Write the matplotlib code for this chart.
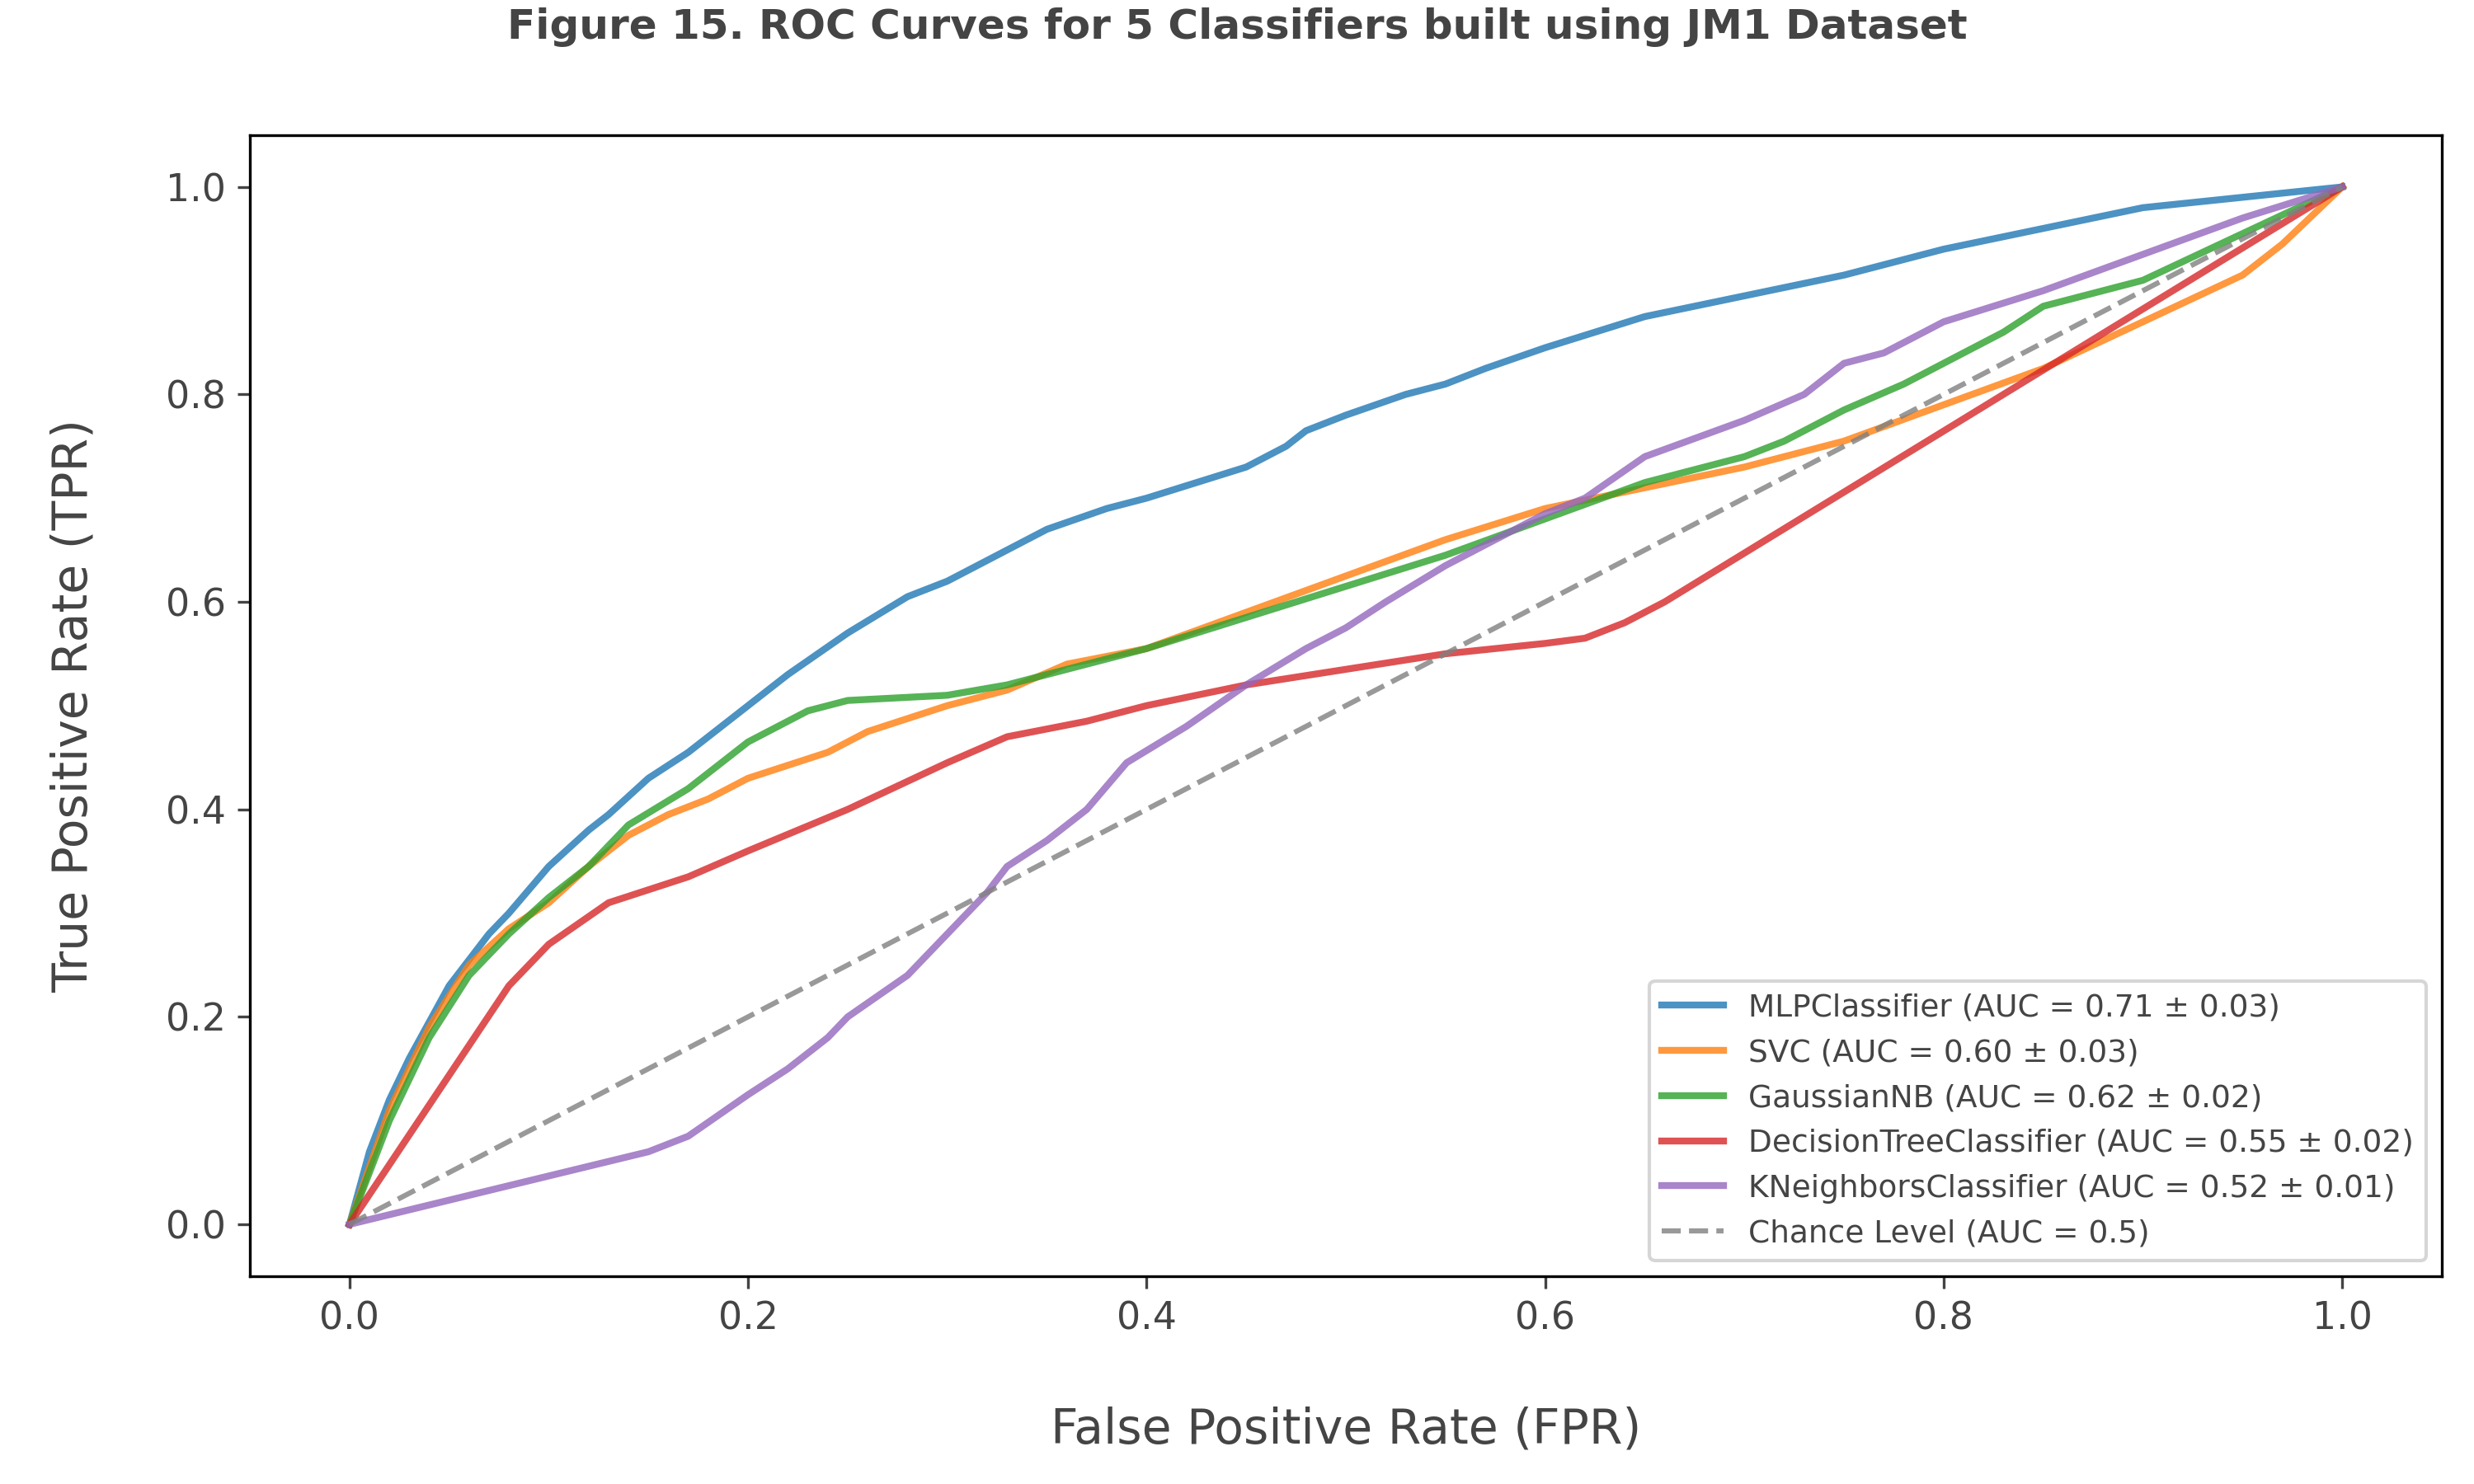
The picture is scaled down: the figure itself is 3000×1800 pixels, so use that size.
import matplotlib
matplotlib.use("Agg")
import matplotlib.pyplot as plt

mlp_x = [0,0.01,0.02,0.03,0.05,0.07,0.08,0.1,0.12,0.13,0.15,0.17,0.2,0.22,0.25,0.28,0.3,0.32,0.35,0.38,0.4,0.45,0.47,0.48,0.5,0.53,0.55,0.57,0.6,0.65,0.7,0.75,0.8,0.85,0.9,0.95,1]
mlp_y = [0,0.07,0.12,0.16,0.23,0.28,0.30,0.345,0.38,0.395,0.43,0.455,0.50,0.53,0.57,0.605,0.62,0.64,0.67,0.69,0.70,0.73,0.75,0.765,0.78,0.80,0.81,0.825,0.845,0.875,0.895,0.915,0.94,0.96,0.98,0.99,1]
svc_x = [0,0.02,0.04,0.06,0.08,0.1,0.12,0.14,0.16,0.18,0.2,0.24,0.26,0.3,0.33,0.36,0.4,0.45,0.5,0.55,0.6,0.65,0.7,0.75,0.8,0.85,0.9,0.95,0.97,1]
svc_y = [0,0.11,0.19,0.25,0.285,0.31,0.345,0.375,0.395,0.41,0.43,0.455,0.475,0.50,0.515,0.54,0.555,0.59,0.625,0.66,0.69,0.71,0.73,0.755,0.79,0.825,0.87,0.915,0.945,1]
gnb_x = [0,0.02,0.04,0.06,0.08,0.1,0.12,0.14,0.17,0.2,0.23,0.25,0.3,0.33,0.37,0.4,0.45,0.5,0.55,0.6,0.65,0.7,0.72,0.75,0.78,0.8,0.83,0.85,0.9,0.95,1]
gnb_y = [0,0.10,0.18,0.24,0.28,0.315,0.345,0.385,0.42,0.465,0.495,0.505,0.51,0.52,0.54,0.555,0.585,0.615,0.645,0.68,0.715,0.74,0.755,0.785,0.81,0.83,0.86,0.885,0.91,0.955,1]
dt_x = [0,0.08,0.1,0.13,0.17,0.2,0.25,0.3,0.33,0.37,0.4,0.45,0.5,0.55,0.6,0.62,0.64,0.66,1]
dt_y = [0,0.23,0.27,0.31,0.335,0.36,0.40,0.445,0.47,0.485,0.50,0.52,0.535,0.55,0.56,0.565,0.58,0.60,1]
knn_x = [0,0.15,0.17,0.2,0.22,0.24,0.25,0.28,0.3,0.32,0.33,0.35,0.37,0.39,0.42,0.45,0.48,0.5,0.52,0.55,0.58,0.6,0.62,0.65,0.7,0.73,0.75,0.77,0.8,0.85,0.9,0.95,1]
knn_y = [0,0.07,0.085,0.125,0.15,0.18,0.20,0.24,0.28,0.32,0.345,0.37,0.40,0.445,0.48,0.52,0.555,0.575,0.60,0.635,0.665,0.685,0.70,0.74,0.775,0.80,0.83,0.84,0.87,0.9,0.935,0.97,1]
labels = ["MLPClassifier (AUC = 0.71 ± 0.03)", "SVC (AUC = 0.60 ± 0.03)",
          "GaussianNB (AUC = 0.62 ± 0.02)", "DecisionTreeClassifier (AUC = 0.55 ± 0.02)",
          "KNeighborsClassifier (AUC = 0.52 ± 0.01)"]
colors = ["#1f77b4", "#ff7f0e", "#2ca02c", "#d62728", "#9467bd"]

fig = plt.figure(figsize=(10, 6), dpi=300)
ax = fig.add_axes([0.101, 0.14, 0.886, 0.769])
for (x, y), lab, c in zip([(mlp_x, mlp_y), (svc_x, svc_y), (gnb_x, gnb_y), (dt_x, dt_y), (knn_x, knn_y)], labels, colors):
    ax.plot(x, y, color=c, lw=2, alpha=0.8, label=lab)
ax.plot([0, 1], [0, 1], ls="--", color="grey", alpha=0.8, lw=1.5, label="Chance Level (AUC = 0.5)")
ax.set_xlim(-0.05, 1.05)
ax.set_ylim(-0.05, 1.05)
grey = "#444444"
ax.tick_params(labelsize=11, colors=grey, labelcolor=grey)
ax.set_xlabel("False Positive Rate (FPR)", fontsize=14, color=grey, labelpad=20)
ax.set_ylabel("True Positive Rate (TPR)", fontsize=14, color=grey, labelpad=20)
fig.suptitle("Figure 15. ROC Curves for 5 Classifiers built using JM1 Dataset", fontsize=12, fontweight="bold", color=grey, y=0.995)
leg = ax.legend(loc="lower right", fontsize=9)
for t in leg.get_texts():
    t.set_color(grey)
fig.savefig("out.png", dpi=300)
